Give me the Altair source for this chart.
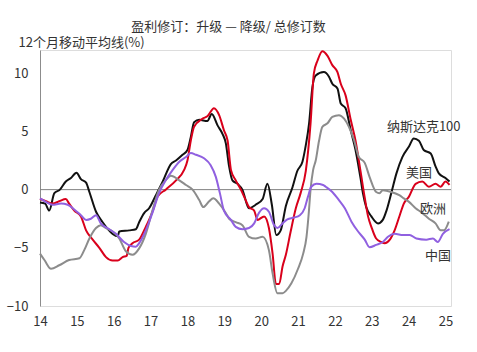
import altair as alt
import pandas as pd

FONT = "Noto Sans CJK SC"

# Nasdaq 100 (black)
ndx_t = [2014.00, 2014.14, 2014.25, 2014.39, 2014.54, 2014.70, 2014.84, 2014.99, 2015.11, 2015.25,
         2015.34, 2015.52, 2015.70, 2015.97, 2016.11, 2016.15, 2016.42, 2016.60, 2016.69, 2016.83,
         2016.96, 2017.14, 2017.33, 2017.55, 2017.69, 2017.87, 2018.00, 2018.09, 2018.18, 2018.32,
         2018.54, 2018.66, 2018.82, 2018.95, 2019.04, 2019.13, 2019.22, 2019.36, 2019.49, 2019.67,
         2019.85, 2020.04, 2020.17, 2020.29, 2020.41, 2020.53, 2020.67, 2020.85, 2020.98, 2021.12,
         2021.21, 2021.30, 2021.39, 2021.48, 2021.70, 2021.84, 2021.93, 2022.07, 2022.16, 2022.29,
         2022.43, 2022.56, 2022.63, 2022.70, 2022.76, 2022.85, 2022.99, 2023.17, 2023.30, 2023.40,
         2023.53, 2023.67, 2023.83, 2024.01, 2024.14, 2024.28, 2024.41, 2024.60, 2024.73, 2024.82,
         2025.00, 2025.11]
ndx_v = [-1.1, -1.2, -1.8, -0.3, 0.0, 0.7, 1.0, 1.45, 0.9, 0.6,
         -0.2, -1.9, -2.8, -3.8, -4.0, -3.6, -3.5, -3.4, -2.8, -2.0,
         -1.6, -0.5, 0.7, 2.2, 2.5, 3.0, 3.4, 4.5, 5.8, 6.0,
         5.9, 6.5, 5.5, 4.8, 4.0, 2.0, 0.8, 0.5, 0.0, -1.6,
         -1.3, -0.8, 0.5, -1.3, -3.9, -3.5, -1.4, 0.2, 1.6, 2.4,
         3.8, 5.7, 8.8, 9.8, 10.1, 9.7, 9.1, 8.7, 7.4, 7.0,
         5.1, 3.4, 2.2, 0.9, -0.3, -1.5, -2.3, -2.9, -2.6, -1.8,
         -0.3, 1.4, 2.8, 3.7, 4.4, 4.2, 3.4, 3.1, 2.0, 1.4,
         1.0, 0.7]

# US (red)
us_t = [2014.00, 2014.16, 2014.34, 2014.52, 2014.70, 2014.79, 2014.93, 2015.11, 2015.25, 2015.43,
        2015.61, 2015.79, 2015.97, 2016.11, 2016.24, 2016.35, 2016.40, 2016.51, 2016.69, 2016.87,
        2017.05, 2017.19, 2017.41, 2017.69, 2017.91, 2018.00, 2018.09, 2018.18, 2018.41, 2018.54,
        2018.72, 2018.86, 2018.99, 2019.09, 2019.18, 2019.31, 2019.45, 2019.58, 2019.67, 2019.81,
        2019.90, 2020.08, 2020.21, 2020.31, 2020.40, 2020.49, 2020.58, 2020.67, 2020.80, 2020.94,
        2021.07, 2021.21, 2021.34, 2021.43, 2021.53, 2021.66, 2021.80, 2021.93, 2022.07, 2022.16,
        2022.29, 2022.43, 2022.56, 2022.70, 2022.81, 2022.90, 2022.99, 2023.12, 2023.26, 2023.35,
        2023.49, 2023.62, 2023.76, 2023.87, 2024.01, 2024.19, 2024.37, 2024.55, 2024.73, 2024.87,
        2025.00, 2025.11]
us_v = [-0.8, -1.0, -1.2, -1.0, -0.8, -1.2, -1.8, -2.3, -3.5, -4.3,
        -5.0, -5.8, -6.1, -6.1, -5.8, -5.7, -5.0, -4.6, -4.3, -3.2,
        -1.9, -0.6, 0.0, 0.8, 1.7, 2.5, 4.2, 5.4, 6.1, 6.3,
        7.0, 6.4, 5.1, 4.2, 1.7, 0.8, 0.0, -0.9, -1.5, -1.8,
        -2.6, -2.3, -3.3, -5.5, -8.1, -8.1, -6.6, -5.6, -3.6, -1.6,
        -0.3, 1.6, 5.7, 10.0, 11.1, 11.9, 11.5, 10.7, 10.1, 9.1,
        8.1, 6.0, 4.2, 1.5, -0.7, -2.3, -3.2, -4.2, -4.5, -4.6,
        -4.3, -3.5, -2.2, -1.2, -0.6, 0.5, 0.7, 0.25, 0.5, 0.25,
        0.7, 0.4]

# Europe (gray)
eu_t = [2014.00, 2014.12, 2014.30, 2014.52, 2014.79, 2015.07, 2015.20, 2015.34, 2015.52, 2015.65,
        2015.79, 2015.97, 2016.15, 2016.33, 2016.51, 2016.69, 2016.87, 2017.05, 2017.23, 2017.41,
        2017.55, 2017.78, 2017.96, 2018.14, 2018.32, 2018.43, 2018.59, 2018.70, 2018.86, 2019.04,
        2019.13, 2019.31, 2019.49, 2019.67, 2019.85, 2020.04, 2020.21, 2020.31, 2020.44, 2020.58,
        2020.67, 2020.82, 2021.00, 2021.14, 2021.23, 2021.29, 2021.34, 2021.41, 2021.48, 2021.57,
        2021.66, 2021.80, 2021.93, 2022.11, 2022.25, 2022.38, 2022.52, 2022.65, 2022.81, 2022.94,
        2023.12, 2023.21, 2023.30, 2023.53, 2023.76, 2023.87, 2024.01, 2024.19, 2024.37, 2024.55,
        2024.73, 2024.87, 2024.96, 2025.09]
eu_v = [-5.5, -6.05, -6.8, -6.5, -6.05, -5.9, -5.2, -4.2, -3.3, -3.05,
        -3.3, -3.6, -4.2, -5.3, -5.6, -5.05, -3.8, -1.8, 0.0, 0.8,
        1.2, 0.8, 0.4, 0.0, -0.9, -1.5, -1.0, -0.75, -1.2, -2.0,
        -2.5, -2.8, -3.05, -4.05, -4.2, -4.05, -5.2, -7.2, -8.9, -8.9,
        -8.7, -8.05, -6.8, -5.5, -4.05, -2.05, 0.0, 1.7, 2.5, 4.2,
        5.4, 5.7, 6.25, 6.4, 6.1, 5.4, 4.25, 2.8, 2.3, 1.1,
        -0.2, -0.3, -0.05, -0.2, -0.5, -0.75, -1.05, -1.6, -2.0, -2.5,
        -2.9, -3.5, -3.5, -2.75]

# China (purple)
cn_t = [2014.00, 2014.16, 2014.34, 2014.57, 2014.75, 2014.93, 2015.11, 2015.25, 2015.38, 2015.52,
        2015.65, 2015.83, 2016.06, 2016.28, 2016.47, 2016.60, 2016.69, 2016.87, 2017.05, 2017.23,
        2017.41, 2017.60, 2017.78, 2017.96, 2018.09, 2018.23, 2018.45, 2018.63, 2018.77, 2018.88,
        2018.99, 2019.18, 2019.31, 2019.49, 2019.67, 2019.81, 2019.94, 2020.08, 2020.21, 2020.35,
        2020.44, 2020.58, 2020.71, 2020.89, 2021.05, 2021.18, 2021.27, 2021.36, 2021.50, 2021.68,
        2021.75, 2021.93, 2022.11, 2022.27, 2022.45, 2022.63, 2022.81, 2022.94, 2023.12, 2023.30,
        2023.44, 2023.62, 2023.85, 2024.03, 2024.21, 2024.48, 2024.66, 2024.79, 2024.93, 2025.11]
cn_v = [-0.75, -1.05, -1.3, -1.2, -1.3, -1.7, -2.2, -2.6, -2.5, -2.2,
        -2.9, -3.3, -3.8, -4.5, -4.85, -4.9, -4.6, -3.5, -2.0, -0.3,
        0.8, 1.7, 2.4, 2.8, 3.15, 3.0, 2.7, 2.1, 1.1, -0.3,
        -1.8, -2.6, -3.2, -3.4, -3.3, -2.9, -2.0, -1.6, -1.9, -3.05,
        -3.3, -2.9, -2.55, -2.4, -2.2, -1.6, -0.6, 0.25, 0.5, 0.4,
        0.25, -0.2, -0.9, -1.6, -2.75, -3.6, -4.3, -4.95, -4.75, -4.5,
        -4.05, -3.8, -3.9, -3.9, -4.2, -4.3, -4.2, -4.5, -3.8, -3.4]

series_names = ["纳斯达克100", "美国", "欧洲", "中国"]
series_colors = ["#111111", "#d9001b", "#8c8c8c", "#9060e0"]

label_text = ["纳斯达克100", "美国", "欧洲", "中国"]
label_t = [2024.41, 2024.28, 2024.66, 2024.80]
label_v = [5.37, 1.42, -1.67, -5.7]

tick_years = list(range(2014, 2026))
y_ticks = [-10, -5, 0, 5, 10]

rows = []
for name, ts, vs in zip(series_names, [ndx_t, us_t, eu_t, cn_t], [ndx_v, us_v, eu_v, cn_v]):
    for t, v in zip(ts, vs):
        rows.append({"series": name, "t": t, "v": v})
df = pd.DataFrame(rows)
labels_df = pd.DataFrame({"label": label_text, "t": label_t, "v": label_v})
zero_df = pd.DataFrame({"v": [0]})

x_scale = alt.Scale(domain=[2014, 2025.15], nice=False, zero=False)
y_scale = alt.Scale(domain=[-10, 12], nice=False, zero=False)

x_axis = alt.Axis(values=tick_years, format="d", tickCount=12,
                  labelExpr="substring(datum.label, 2)", domain=False, ticks=False,
                  grid=False, labelFontSize=13, labelColor="#333333", labelFont=FONT,
                  labelPadding=9, labelOverlap=False, labelFlush=False, labelBound=False,
                  title=None)
y_axis = alt.Axis(values=y_ticks, domain=True, domainColor="#8c8c8c",
                  domainWidth=1, ticks=False, grid=False, labelFontSize=13,
                  labelColor="#333333", labelFont=FONT, labelPadding=12,
                  labelOverlap=False, labelFlush=False,
                  title="12个月移动平均线(%)", titleAngle=0, titleX=-22, titleY=-8,
                  titleAlign="left", titleBaseline="middle", titleFont=FONT,
                  titleFontSize=13, titleFontWeight="normal", titleColor="#333333")

zero = alt.Chart(zero_df).mark_rule(color="#808080", strokeWidth=1).encode(
    y=alt.Y("v:Q", scale=y_scale, axis=y_axis)
)

lines = alt.Chart(df).mark_line(strokeWidth=2, interpolate="monotone").encode(
    x=alt.X("t:Q", scale=x_scale, axis=x_axis),
    y=alt.Y("v:Q", scale=y_scale, axis=y_axis),
    color=alt.Color("series:N", scale=alt.Scale(domain=series_names, range=series_colors),
                    legend=None),
    detail="series:N",
)

texts = alt.Chart(labels_df).mark_text(font=FONT, fontSize=13, color="#333333",
                                       align="center", baseline="middle").encode(
    x=alt.X("t:Q", scale=x_scale, axis=x_axis),
    y=alt.Y("v:Q", scale=y_scale, axis=y_axis),
    text="label:N",
)

chart = alt.layer(zero, lines, texts).properties(
    width=411, height=256,
    autosize=alt.AutoSizeParams(type="none"),
    padding={"left": 40, "top": 50, "right": 26, "bottom": 46},
    title=alt.TitleParams("盈利修订：升级 — 降级/ 总修订数", font=FONT, fontSize=13,
                          fontWeight="normal", color="#333333", anchor="middle",
                          dx=-17, offset=2),
).configure_view(stroke=None).configure_axis(labelOverlap=False).configure(background="white")

chart.save("out.html", embed_options={"renderer": "svg", "actions": False})
